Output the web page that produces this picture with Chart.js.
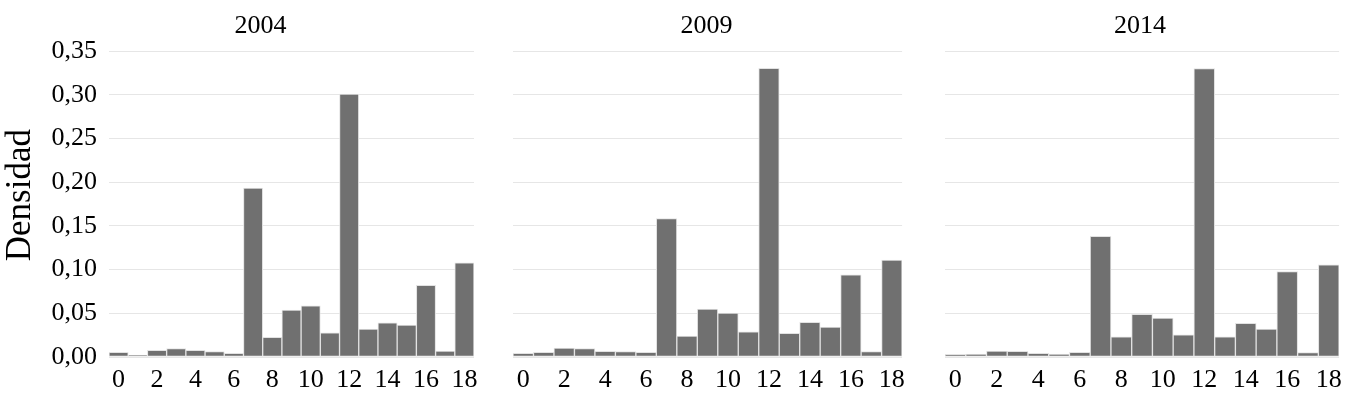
<!DOCTYPE html>
<html>
<head>
<meta charset="utf-8">
<script src="https://cdn.jsdelivr.net/npm/chart.js@4.4.1/dist/chart.umd.min.js"></script>
<style>
  html, body { margin: 0; padding: 0; background: #fff; }
  #wrap { position: relative; width: 1358px; height: 403px; overflow: hidden; }
  .cell { position: absolute; top: 0; height: 403px; }
</style>
</head>
<body>
<div id="wrap">
  <div class="cell" style="left:0px;width:521px"><canvas id="c2004"></canvas></div>
  <div class="cell" style="left:500px;width:413px"><canvas id="c2009"></canvas></div>
  <div class="cell" style="left:930px;width:420px"><canvas id="c2014"></canvas></div>
</div>
<script>
// categorías del eje x (0..18) y etiquetas visibles
const categories = ['0','1','2','3','4','5','6','7','8','9','10','11','12','13','14','15','16','17','18'];
const xTickLabels = ['0','','2','','4','','6','','8','','10','','12','','14','','16','','18'];

// eje y
const yTicks = [0, 0.05, 0.10, 0.15, 0.20, 0.25, 0.30, 0.35];
const yTickLabels = ['0,00','0,05','0,10','0,15','0,20','0,25','0,30','0,35'];
const yTitle = 'Densidad';

// densidades
const years = ['2004', '2009', '2014'];
const dens2004 = [0.0053, 0.0023, 0.0076, 0.0095, 0.0076, 0.0061, 0.0042, 0.1934, 0.0225, 0.0537, 0.0586, 0.0278, 0.3008, 0.0320, 0.0392, 0.0366, 0.0819, 0.0069, 0.1078];
const dens2009 = [0.0042, 0.0053, 0.0103, 0.0095, 0.0065, 0.0061, 0.0053, 0.1584, 0.0240, 0.0548, 0.0503, 0.0289, 0.3305, 0.0270, 0.0396, 0.0343, 0.0941, 0.0061, 0.1108];
const dens2014 = [0.0030, 0.0034, 0.0069, 0.0065, 0.0042, 0.0034, 0.0053, 0.1382, 0.0232, 0.0487, 0.0446, 0.0255, 0.3302, 0.0232, 0.0385, 0.0320, 0.0979, 0.0050, 0.1055];

const serif = '"Liberation Serif", "Times New Roman", serif';
Chart.defaults.font.family = serif;
Chart.defaults.color = '#000';

// título vertical del eje y (algo por encima del centro del área, como en el original)
const yTitlePlugin = {
  id: 'yTitle',
  afterDraw(chart, args, o) {
    if (!o.show) return;
    const c = chart.ctx;
    const mid = (chart.chartArea.top + chart.chartArea.bottom) / 2 - 9;
    c.save();
    c.translate(30, mid);
    c.rotate(-Math.PI / 2);
    c.font = '35px ' + serif;
    c.fillStyle = '#000';
    c.textAlign = 'center';
    c.textBaseline = 'alphabetic';
    c.fillText(yTitle, 0, 0);
    c.restore();
  }
};

function makePanel(id, year, values, opts) {
  const ctx = document.getElementById(id).getContext('2d');
  return new Chart(ctx, {
    type: 'bar',
    plugins: [yTitlePlugin],
    data: {
      labels: categories,
      datasets: [{
        data: values,
        backgroundColor: '#707070',
        borderColor: '#e2e2e2',
        borderWidth: 1,
        borderSkipped: false,
        barPercentage: 1,
        categoryPercentage: 1
      }]
    },
    options: {
      responsive: true,
      maintainAspectRatio: false,
      animation: false,
      layout: { padding: 0 },
      plugins: {
        legend: { display: false },
        tooltip: { enabled: false },
        yTitle: { show: opts.showY },
        title: {
          display: true,
          text: year,
          font: { size: 26, weight: 'normal', family: serif },
          color: '#000',
          padding: { top: 11, bottom: 9 }
        }
      },
      scales: {
        x: {
          grid: { display: false, drawTicks: false },
          border: { display: false },
          ticks: {
            autoSkip: false,
            maxRotation: 0,
            padding: 8,
            font: { size: 26 },
            callback: (v, i) => xTickLabels[i]
          },
          afterFit: s => { s.height = 46; }
        },
        y: {
          min: 0,
          max: 0.35,
          grid: { color: '#e6e6e6', lineWidth: 1, drawTicks: false },
          border: { display: false },
          afterBuildTicks: s => { s.ticks = yTicks.map(v => ({ value: v })); },
          ticks: {
            display: opts.showY,
            padding: 12,
            font: { size: 26 },
            callback: (v, i) => yTickLabels[i]
          },
          afterFit: s => { s.width = opts.yWidth; }
        },
        // eje vacío a la derecha: solo reserva el hueco entre paneles
        gap: {
          type: 'linear',
          position: 'right',
          grid: { display: false, drawTicks: false },
          border: { display: false },
          ticks: { display: false },
          afterFit: s => { s.width = opts.gapRight; }
        }
      }
    }
  });
}

makePanel('c2004', years[0], dens2004, { showY: true, yWidth: 109, gapRight: 47 });
makePanel('c2009', years[1], dens2009, { showY: false, yWidth: 13, gapRight: 6 });
makePanel('c2014', years[2], dens2014, { showY: false, yWidth: 15, gapRight: 10 });
</script>
</body>
</html>
